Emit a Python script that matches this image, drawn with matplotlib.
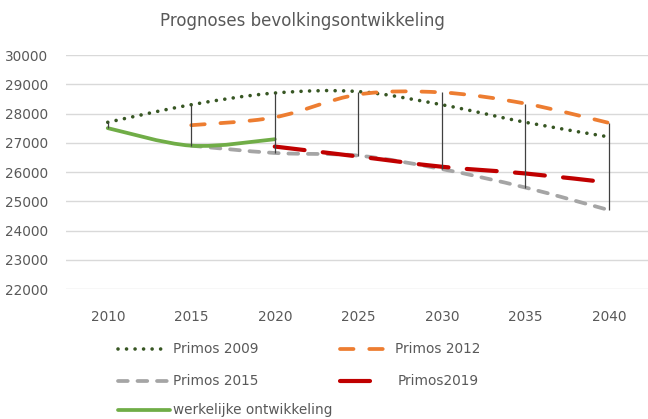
import numpy as np
import matplotlib
matplotlib.use("Agg")
import matplotlib.pyplot as plt
from matplotlib.path import Path
from matplotlib.patches import PathPatch
from matplotlib.lines import Line2D

years = [2010, 2015, 2020, 2025, 2030, 2035, 2040]
nan = np.nan
primos_2009 = [27700, 28300, 28700, 28750, 28300, 27700, 27200]
primos_2012 = [nan, 27600, 27870, 28650, 28720, 28340, 27680]
primos_2015 = [nan, 26900, 26650, 26560, 26100, 25470, 24700]
primos_2019 = [nan, nan, 26870, 26530, 26180, 25950, 25640]
werkelijk = [27500, 26900, 27120, nan, nan, nan, nan]

yticks = list(range(22000, 30001, 1000))
grey_text = "#595959"


def smooth_path(xs, ys):
    # Excel-style smoothed line: cubic bezier with catmull-rom control points
    pts = [(x, y) for x, y in zip(xs, ys) if not np.isnan(y)]
    p = np.array(pts, dtype=float)
    n = len(p)
    verts = [p[0]]
    codes = [Path.MOVETO]
    for i in range(n - 1):
        p0 = p[max(i - 1, 0)]
        p1 = p[i]
        p2 = p[i + 1]
        p3 = p[min(i + 2, n - 1)]
        c1 = p1 + (p2 - p0) / 6.0
        c2 = p2 - (p3 - p1) / 6.0
        verts += [c1, c2, p2]
        codes += [Path.CURVE4] * 3
    return Path(verts, codes)


styles = [
    (primos_2009, "Primos 2009", dict(color="#375623", lw=2.6, ls=(0, (0.01, 2.35)), capstyle="round")),
    (primos_2012, "Primos 2012", dict(color="#ED7D31", lw=2.7, ls=(0, (3.6, 4.2)), capstyle="round")),
    (primos_2015, "Primos 2015", dict(color="#A5A5A5", lw=2.7, ls=(0, (2.6, 2.6)), capstyle="round")),
    (primos_2019, "Primos2019", dict(color="#C00000", lw=3.0, ls=(0, (7.2, 4.4)), capstyle="round")),
    (werkelijk, "werkelijke ontwikkeling", dict(color="#70AD47", lw=2.7, ls="-", capstyle="round")),
]

fig = plt.figure(figsize=(6.48, 4.19), dpi=100)
ax = fig.add_axes([66 / 648, 1 - 289 / 419, 1 - 66 / 648, (289 - 55) / 419])

for vals, name, st in styles:
    patch = PathPatch(smooth_path(years, vals), fill=False, edgecolor=st["color"],
                      linewidth=st["lw"], linestyle=st["ls"], capstyle=st["capstyle"],
                      joinstyle="round", zorder=3)
    ax.add_patch(patch)

# high-low lines between the highest and lowest forecast per year
table = np.array([primos_2009, primos_2012, primos_2015, primos_2019, werkelijk], dtype=float)
highs = np.nanmax(table, axis=0)
lows = np.nanmin(table, axis=0)
ax.vlines(years, lows, highs, color="#404040", lw=0.9, zorder=4)

ax.set_xlim(2007.5, 2042.35)
ax.set_ylim(22000, 30000)
ax.set_xticks(years)
ax.set_yticks(yticks)
ax.grid(axis="y", color="#D9D9D9", lw=1.0)
ax.set_axisbelow(True)
for s in ax.spines.values():
    s.set_visible(False)
ax.tick_params(length=0, colors=grey_text, labelsize=9.8)
ax.tick_params(axis="y", pad=13)
ax.tick_params(axis="x", pad=15)

fig.text(302 / 648, 1 - 21 / 419, "Prognoses bevolkingsontwikkeling", ha="center", va="center",
         fontsize=12, color=grey_text)

# legend drawn by hand in pixel positions
legend_pos = [
    (118, 168, 349, 173),
    (340, 390, 349, 395),
    (118, 168, 381, 173),
    (340, 376, 381, 398),
    (118, 170, 410, 173),
]
for (vals, name, st), (x0, x1, yy, tx) in zip(styles, legend_pos):
    fig.add_artist(Line2D([x0 / 648, x1 / 648], [1 - yy / 419] * 2, transform=fig.transFigure,
                          color=st["color"], lw=st["lw"], linestyle=st["ls"],
                          dash_capstyle=st["capstyle"], solid_capstyle="round"))
    fig.text(tx / 648, 1 - yy / 419, name, ha="left", va="center", fontsize=9.8, color=grey_text)

fig.savefig("out.png", dpi=100)
